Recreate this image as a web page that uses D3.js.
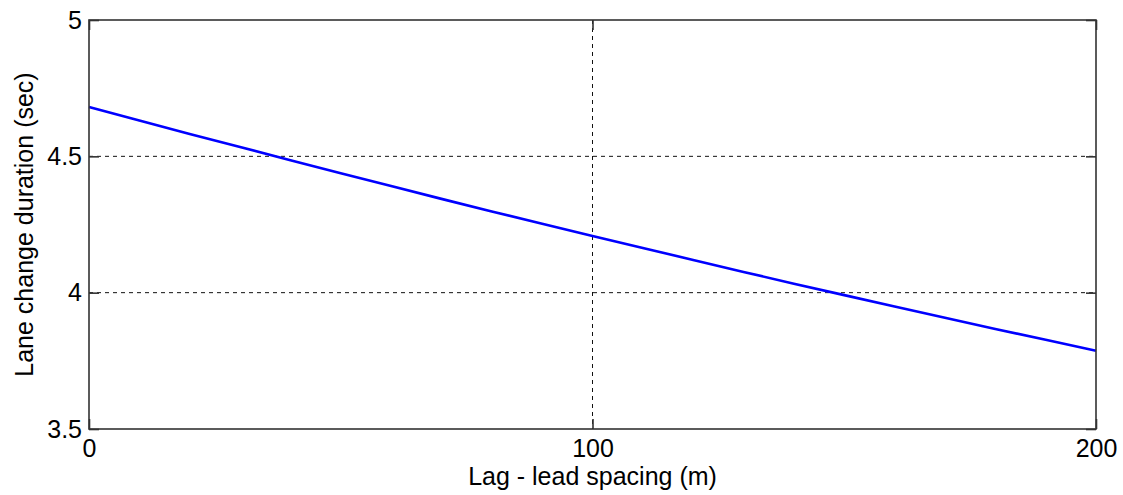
<!DOCTYPE html>
<html>
<head>
<meta charset="utf-8">
<script src="https://cdn.jsdelivr.net/npm/d3@7"></script>
<style>
  body { margin: 0; background: #fff; }
  text { font-family: "Liberation Sans", Arial, sans-serif; fill: #000; }
</style>
</head>
<body>
<svg id="chart" width="1123" height="495"></svg>
<script>
// spacing (m) and lane change duration (sec)
const spacing = [0, 10, 20, 30, 40, 50, 60, 70, 80, 90, 100,
	110, 120, 130, 140, 150, 160, 170, 180, 190, 200];
const duration = [4.681, 4.631, 4.582, 4.534, 4.486, 4.438, 4.391, 4.344, 4.298, 4.253, 4.208,
	4.164, 4.120, 4.076, 4.033, 3.991, 3.949, 3.908, 3.867, 3.827, 3.787];
const xTicks = [0, 100, 200];
const yTicks = [3.5, 4, 4.5, 5];

const svg = d3.select("svg#chart");
const margin = { top: 20, right: 27, bottom: 66, left: 89 };
const width = +svg.attr("width");
const height = +svg.attr("height");
const chartWidth = width - margin.left - margin.right;
const chartHeight = height - margin.top - margin.bottom;
const fontSize = "25px";
const tickLen = 10;

const g = svg.append("g").attr("transform", `translate(${margin.left},${margin.top})`);

const x = d3.scaleLinear([0, 200], [0, chartWidth]);
const y = d3.scaleLinear([3.5, 5], [chartHeight, 0]);

// dashed grid
g.append("g")
	.selectAll("line")
	.data(xTicks.slice(1, -1))
	.join("line")
	.attr("x1", (d) => x(d))
	.attr("x2", (d) => x(d))
	.attr("y1", 0)
	.attr("y2", chartHeight)
	.attr("stroke", "#111")
	.attr("stroke-dasharray", "4,4");
g.append("g")
	.selectAll("line")
	.data(yTicks.slice(1, -1))
	.join("line")
	.attr("x1", 0)
	.attr("x2", chartWidth)
	.attr("y1", (d) => y(d))
	.attr("y2", (d) => y(d))
	.attr("stroke", "#111")
	.attr("stroke-dasharray", "4,4");

// axes with inward ticks on all four sides
const styleAxis = (a) => {
	a.select(".domain").remove();
	a.selectAll(".tick line").attr("stroke", "#333").attr("stroke-width", 1.6);
	a.selectAll("text")
		.style("font-size", fontSize)
		.style("font-family", "Liberation Sans, Arial, sans-serif")
		.attr("fill", "#000");
};
g.append("g")
	.attr("transform", `translate(0,${chartHeight})`)
	.call(d3.axisBottom(x).tickValues(xTicks).tickSizeInner(-tickLen).tickSizeOuter(0)
		.tickPadding(10).tickFormat(d3.format("d")))
	.call(styleAxis);
g.append("g")
	.call(d3.axisTop(x).tickValues(xTicks).tickSizeInner(-tickLen).tickSizeOuter(0).tickFormat(""))
	.call(styleAxis);
g.append("g")
	.call(d3.axisLeft(y).tickValues(yTicks).tickSizeInner(-tickLen).tickSizeOuter(0)
		.tickPadding(7).tickFormat((d) => d))
	.call(styleAxis);
g.append("g")
	.attr("transform", `translate(${chartWidth},0)`)
	.call(d3.axisRight(y).tickValues(yTicks).tickSizeInner(-tickLen).tickSizeOuter(0).tickFormat(""))
	.call(styleAxis);

// line
const line = d3.line()
	.x((d, i) => x(spacing[i]))
	.y((d) => y(d));
g.append("path")
	.datum(duration)
	.attr("fill", "none")
	.attr("stroke", "#0000ff")
	.attr("stroke-width", 2.6)
	.attr("d", line);

// box
g.append("rect")
	.attr("x", 0)
	.attr("y", 0)
	.attr("width", chartWidth)
	.attr("height", chartHeight)
	.attr("fill", "none")
	.attr("stroke", "#333")
	.attr("stroke-width", 1.6);

// titles
svg.append("text")
	.attr("x", margin.left + chartWidth / 2)
	.attr("y", 485)
	.attr("text-anchor", "middle")
	.style("font-size", fontSize)
	.text("Lag - lead spacing (m)");
svg.append("text")
	.attr("transform", `translate(33,${margin.top + chartHeight / 2}) rotate(-90)`)
	.attr("text-anchor", "middle")
	.style("font-size", fontSize)
	.text("Lane change duration (sec)");
</script>
</body>
</html>
